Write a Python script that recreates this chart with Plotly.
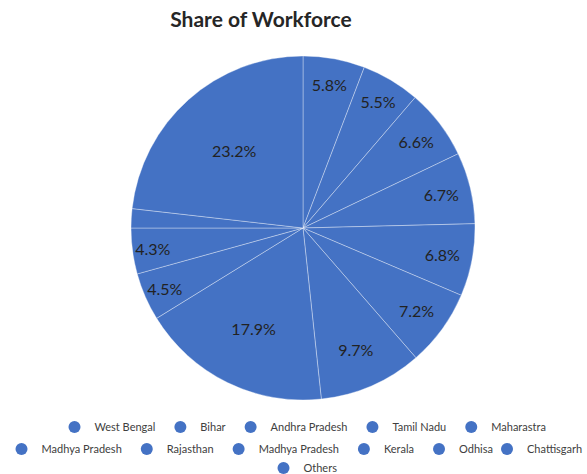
import plotly.graph_objects as go

states = ["West Bengal", "Bihar", "Andhra Pradesh", "Tamil Nadu", "Maharastra",
          "Madhya Pradesh", "Rajasthan", "Madhya Pradesh", "Kerala", "Odhisa",
          "Chattisgarh", "Others"]
share = [5.8, 5.5, 6.6, 6.7, 6.8, 7.2, 9.7, 17.9, 4.5, 4.3, 1.8, 23.2]
show_label = [True] * 10 + [False, True]

BLUE = "#4472C4"
FONT = "Lato"

# unique keys so duplicate names are not merged by the pie
keys = [s + "\u200b" * i for i, s in enumerate(states)]
texts = [f"{v:.1f}%" if sl else "" for v, sl in zip(share, show_label)]

cx, cy, R = 303, 228, 172
fig = go.Figure()
fig.add_trace(go.Pie(
    labels=keys, values=share, text=texts, textinfo="text",
    textposition="inside", insidetextorientation="horizontal",
    sort=False, direction="clockwise", rotation=0,
    marker=dict(colors=[BLUE] * len(share),
                line=dict(color="rgba(255,255,255,0.35)", width=1)),
    textfont=dict(family=FONT, size=16, color="#222222"),
    showlegend=False, hoverinfo="label+percent",
    domain=dict(x=[(cx - R) / 587, (cx + R) / 587],
                y=[(474 - cy - R) / 474, (474 - cy + R) / 474]),
))

# legend rows
row_of = [0] * 5 + [1] * 5 + [3] + [2]
legend_names = ["legend", "legend2", "legend3", "legend4"]
for n, r in zip(states, row_of):
    fig.add_trace(go.Scatter(
        x=[None], y=[None], mode="markers", name=n,
        marker=dict(color=BLUE, size=13, symbol="circle"),
        legend=legend_names[r], showlegend=True,
    ))

leg_common = dict(orientation="h", yanchor="middle",
                  font=dict(family=FONT, size=11, color="#404040"),
                  bgcolor="rgba(0,0,0,0)", itemsizing="constant",
                  tracegroupgap=0)
fig.update_layout(
    width=587, height=474,
    margin=dict(l=0, r=0, t=0, b=0, autoexpand=False),
    paper_bgcolor="white", plot_bgcolor="white",
    xaxis=dict(visible=False), yaxis=dict(visible=False),
    title=dict(text="<b>Share of Workforce</b>", x=261 / 587, xanchor="center",
               y=1 - 20 / 474, yanchor="middle",
               font=dict(family=FONT, size=21, color="#262626")),
    legend=dict(x=303 / 587, xanchor="center", y=(474 - 427) / 474, **leg_common),
    legend2=dict(x=250 / 587, xanchor="center", y=(474 - 449) / 474, **leg_common),
    legend4=dict(x=487 / 587, xanchor="left", y=(474 - 449) / 474, **leg_common),
    legend3=dict(x=303 / 587, xanchor="center", y=(474 - 468) / 474, **leg_common),
)

fig.write_html("out.html")
